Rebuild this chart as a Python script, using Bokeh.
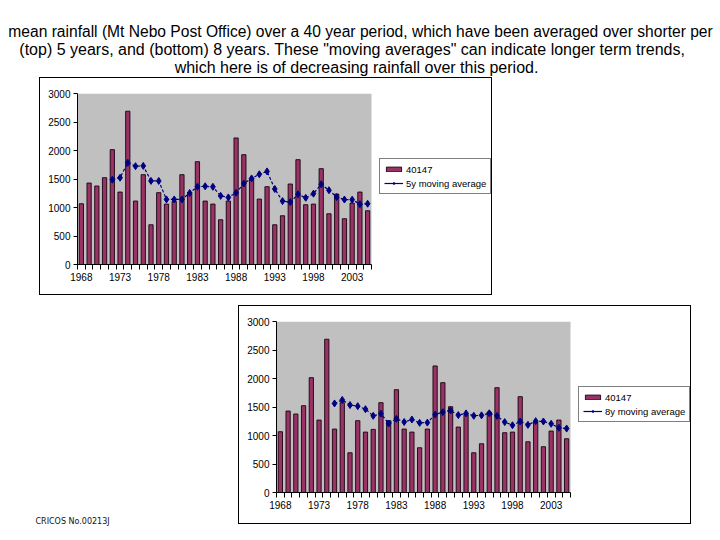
from bokeh.plotting import figure
from bokeh.models import (Range1d, FixedTicker, Legend, LegendItem, Spacer, BoxAnnotation)
from bokeh.layouts import column, row
from bokeh.core.properties import value
from bokeh.embed import file_html
from bokeh.resources import INLINE

# ---------------- data ----------------
years = list(range(1968, 2006))
rain = [1066, 1429, 1377, 1523, 2015, 1271, 2689, 1113, 1576, 697,
        1260, 1060, 1107, 1576, 1260, 1804, 1113, 1060, 785, 1113,
        2220, 1927, 1505, 1148, 1365, 697, 855, 1412, 1839, 1049,
        1060, 1681, 890, 1236, 803, 1078, 1271, 943]
ma5_years = list(range(1972, 2006))
ma5 = [1488, 1523, 1785, 1725, 1730, 1467, 1466, 1142, 1141, 1141,
       1255, 1365, 1372, 1363, 1204, 1177, 1258, 1421, 1510, 1583,
       1633, 1325, 1112, 1095, 1232, 1170, 1243, 1407, 1303, 1183,
       1140, 1138, 1058, 1066]
ma8_years = list(range(1975, 2006))
ma8 = [1562, 1625, 1535, 1515, 1462, 1345, 1383, 1210, 1293, 1237,
       1280, 1222, 1226, 1367, 1410, 1440, 1358, 1388, 1346, 1354,
       1390, 1344, 1235, 1180, 1245, 1187, 1252, 1246, 1206, 1135, 1122]
x_label_years = [1968, 1973, 1978, 1983, 1988, 1993, 1998, 2003]
y_ticks = [0, 500, 1000, 1500, 2000, 2500, 3000]
series_name = "40147"
ma5_name = "5y moving average"
ma8_name = "8y moving average"
title_lines = [
    "mean rainfall (Mt Nebo Post Office) over a 40 year period, which have been averaged over shorter per",
    "(top) 5 years, and (bottom) 8 years.  These \"moving averages\" can indicate longer term trends,",
    "which here is of decreasing rainfall over this period.",
]
footer = "CRICOS No.00213J"

BAR = "#993366"
NAVY = "#000080"
FONT = "Liberation Sans"

W = 451          # chart box width
LEFT = 37        # box edge to plot-area left
PLOT_W = 294     # plot-area width
X0, X1 = years[0] - 0.5, years[-1] + 0.5


def make_chart(ma_x, ma_y, ma_label, height):
    frame_w = W - LEFT
    x_end = X0 + (X1 - X0) * frame_w / PLOT_W
    p = figure(width=W, height=height, output_backend="svg", toolbar_location=None,
               x_range=Range1d(X0, x_end), y_range=Range1d(0, 3000),
               min_border_left=LEFT, min_border_right=0, min_border_top=15,
               min_border_bottom=height - 186)
    p.styles = {"box-shadow": "0 0 0 1px #000000"}
    p.background_fill_color = "white"
    p.border_fill_color = "white"
    p.outline_line_color = None
    p.xgrid.visible = False
    p.ygrid.visible = False

    p.add_layout(BoxAnnotation(left=X0, right=X1, bottom=0, top=3000,
                               fill_color="#C0C0C0", fill_alpha=1,
                               line_color=None, level="underlay"))

    bars = p.vbar(x=years, top=rain, width=0.55, fill_color=BAR,
                  line_color="#1a0010", line_width=0.9)
    p.line(ma_x, ma_y, line_color=NAVY, line_width=1.2, line_dash="3 2")
    p.scatter(ma_x, ma_y, marker="diamond", size=7, fill_color=NAVY, line_color=NAVY)
    # legend sample renderers (solid line + diamond), placed off the visible range
    leg_line = p.line(x=[1900, 1901], y=[-500, -500], line_color=NAVY, line_width=1.2)
    leg_mark = p.scatter(x=[1900], y=[-500], marker="diamond", size=7,
                         fill_color=NAVY, line_color=NAVY)

    xa = p.xaxis[0]
    xa.bounds = (X0, X1)
    xa.ticker = FixedTicker(ticks=x_label_years,
                            minor_ticks=[y - 0.5 for y in years] + [X1])
    xa.major_tick_line_color = None
    xa.major_tick_out = 5
    xa.major_tick_in = 0
    xa.minor_tick_line_color = "black"
    xa.minor_tick_out = 5
    xa.minor_tick_in = 0
    xa.major_label_standoff = 3
    xa.axis_line_color = "black"

    ya = p.yaxis[0]
    ya.ticker = FixedTicker(ticks=y_ticks)
    ya.major_tick_out = 4
    ya.major_tick_in = 0
    ya.minor_tick_line_color = None
    ya.major_label_standoff = 3
    ya.axis_line_color = "black"

    for ax in (xa, ya):
        ax.major_label_text_font = FONT
        ax.major_label_text_font_size = "10px"
        ax.major_label_text_color = "black"

    legend = Legend(items=[LegendItem(label=series_name, renderers=[bars]),
                           LegendItem(label=ma_label, renderers=[leg_line, leg_mark])],
                    location=(302, 70))
    legend.border_line_color = "black"
    legend.border_line_width = 1
    legend.background_fill_color = "white"
    legend.label_text_font = FONT
    legend.label_text_font_size = "9.5px"
    legend.label_text_color = "black"
    legend.glyph_width = 19
    legend.glyph_height = 6
    legend.label_height = 12
    legend.label_standoff = 3
    legend.spacing = 2
    legend.padding = 4
    legend.margin = 0
    p.add_layout(legend)
    return p


# title figure
t = figure(width=720, height=77, output_backend="svg", toolbar_location=None,
           x_range=Range1d(0, 720), y_range=Range1d(77, 0),
           x_axis_type=None, y_axis_type=None, min_border=0)
t.outline_line_color = None
t.grid.visible = False
t.background_fill_color = None
t.border_fill_color = None
t.text(x=[360], y=[31], text=title_lines[:1], text_align="center",
       text_baseline="alphabetic", text_font=value(FONT),
       text_font_size="15.6px", text_color="black")
t.text(x=[354, 356], y=[49, 67], text=title_lines[1:], text_align="center",
       text_baseline="alphabetic", text_font=value(FONT),
       text_font_size="16px", text_color="black")

c1 = make_chart(ma5_years, ma5, ma5_name, 216)
c2 = make_chart(ma8_years, ma8, ma8_name, 217)

# footer figure (transparent so the chart frames stay visible)
f = figure(width=239, height=235, output_backend="svg", toolbar_location=None,
           x_range=Range1d(0, 239), y_range=Range1d(235, 0),
           x_axis_type=None, y_axis_type=None, min_border=0)
f.outline_line_color = None
f.grid.visible = False
f.background_fill_color = None
f.border_fill_color = None
f.text(x=[35], y=[227], text=[footer], text_align="left", text_baseline="middle",
       text_font=value("DejaVu Sans"), text_font_size="8px", text_color="#111111")

layout = column(t,
                column(Spacer(width=720, height=1),
                       row(Spacer(width=40, height=216), c1)),
                row(f, column(Spacer(width=451, height=12), c2)))

open("out.html", "w").write(file_html(layout, INLINE))
